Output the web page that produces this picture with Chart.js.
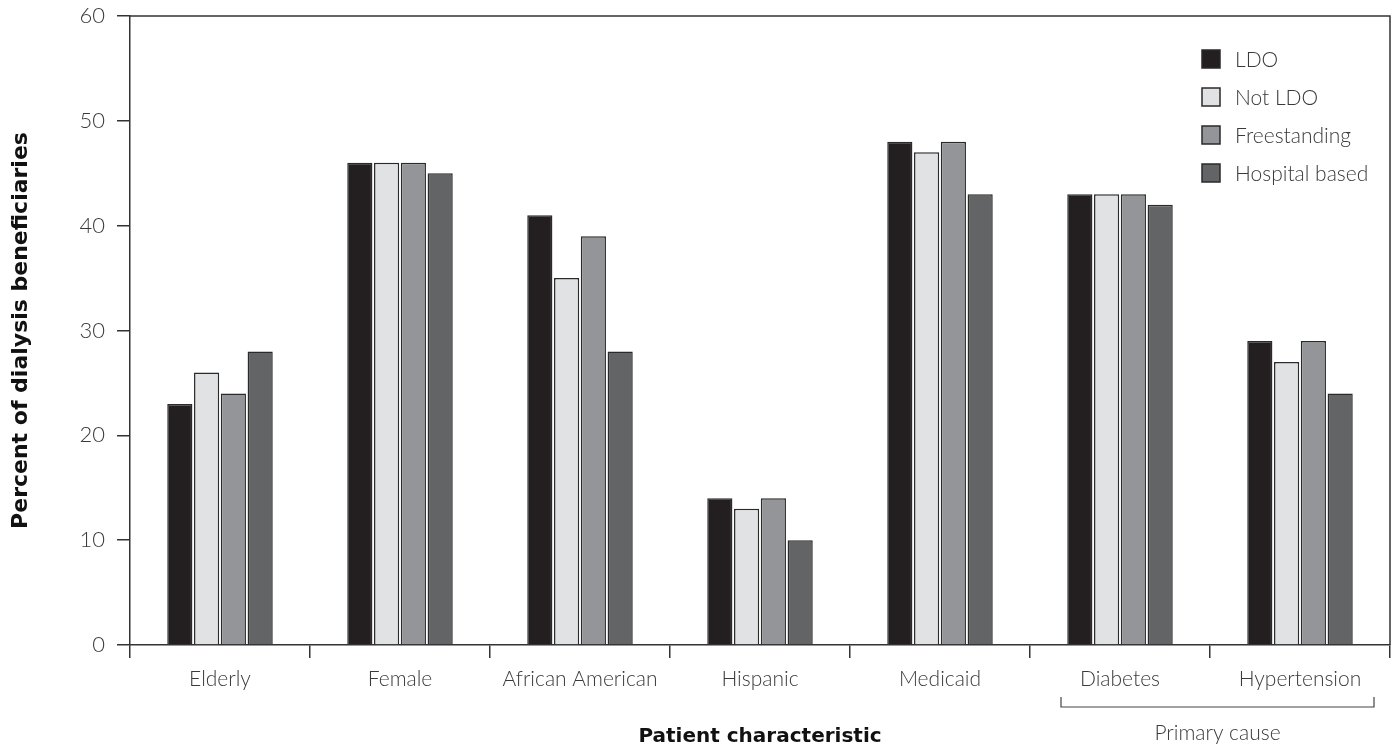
<!DOCTYPE html>
<html>
<head>
<meta charset="utf-8">
<script src="https://cdn.jsdelivr.net/npm/chart.js@4.4.1/dist/chart.umd.min.js"></script>
<style>
  html, body { margin: 0; padding: 0; background: #fff; }
  #wrap { width: 1400px; height: 755px; }
</style>
</head>
<body>
<div id="wrap"><canvas id="grafico"></canvas></div>
<script>
// datos
const categories = ['Elderly', 'Female', 'African American', 'Hispanic', 'Medicaid', 'Diabetes', 'Hypertension'];
const ldo = [23, 46, 41, 14, 48, 43, 29];
const notLdo = [26, 46, 35, 13, 47, 43, 27];
const freestanding = [24, 46, 39, 14, 48, 43, 29];
const hospitalBased = [28, 45, 28, 10, 43, 42, 24];
const seriesNames = ['LDO', 'Not LDO', 'Freestanding', 'Hospital based'];
const yMin = 0;
const yMax = 60;
const yStep = 10;
const groupLabel = 'Primary cause';
const groupFirst = 'Diabetes';
const groupLast = 'Hypertension';

const colors = ['#231f20', '#e1e2e4', '#939598', '#636466'];
const edge = '#2a2a2a';
const lightFont = { family: 'Lato', weight: '300', size: 21 };

//marco superior y derecho + leyenda + corchete
const extras = {
    id: 'extras',
    afterDraw(chart) {
        const ctx = chart.ctx;
        const a = chart.chartArea;
        ctx.save();
        ctx.strokeStyle = '#333';
        ctx.lineWidth = 1.5;
        ctx.beginPath();
        ctx.moveTo(a.left, a.top);
        ctx.lineTo(a.right, a.top);
        ctx.lineTo(a.right, a.bottom);
        ctx.stroke();

        //leyenda
        ctx.font = '300 21px Lato';
        ctx.textBaseline = 'middle';
        ctx.textAlign = 'left';
        chart.data.datasets.forEach((ds, i) => {
            const y = 59 + i * 38;
            ctx.fillStyle = ds.backgroundColor;
            ctx.fillRect(1202, y - 9, 18, 18);
            ctx.strokeStyle = edge;
            ctx.lineWidth = 1.5;
            ctx.strokeRect(1202, y - 9, 18, 18);
            ctx.fillStyle = '#3a3a3a';
            ctx.fillText(ds.label, 1235, y + 1);
        });

        //corchete "Primary cause"
        const x = chart.scales.x;
        const x1 = x.getPixelForValue(categories.indexOf(groupFirst)) - 59;
        const x2 = x.getPixelForValue(categories.indexOf(groupLast)) + 74;
        ctx.strokeStyle = '#444';
        ctx.lineWidth = 1.2;
        ctx.beginPath();
        ctx.moveTo(x1, 697);
        ctx.lineTo(x1, 707);
        ctx.lineTo(x2, 707);
        ctx.lineTo(x2, 697);
        ctx.stroke();
        ctx.fillStyle = '#3a3a3a';
        ctx.textAlign = 'center';
        ctx.fillText(groupLabel, (x1 + x2) / 2, 733);
        ctx.restore();
    }
};

const values = [ldo, notLdo, freestanding, hospitalBased];

const ctx = document.getElementById('grafico').getContext('2d');
new Chart(ctx, {
    type: 'bar',
    data: {
        labels: categories,
        datasets: values.map((v, i) => ({
            label: seriesNames[i],
            data: v,
            backgroundColor: colors[i],
            borderColor: edge,
            borderWidth: 1.5,
            categoryPercentage: 0.595,
            barPercentage: 0.94
        }))
    },
    options: {
        responsive: true,
        maintainAspectRatio: false,
        animation: false,
        layout: { padding: { top: 16, right: 10, left: 0, bottom: 0 } },
        plugins: {
            legend: { display: false },
            tooltip: { enabled: false }
        },
        scales: {
            x: {
                afterFit: s => { s.height = 110; },
                grid: {
                    drawOnChartArea: false,
                    drawTicks: true,
                    tickLength: 13,
                    color: '#333',
                    lineWidth: 1.5
                },
                border: { color: '#333', width: 1.5 },
                ticks: { color: '#3a3a3a', font: lightFont, padding: 9, maxRotation: 0 },
                title: {
                    display: true,
                    text: 'Patient characteristic',
                    color: '#111',
                    font: { family: 'DejaVu Sans', weight: 'bold', size: 20 },
                    padding: { top: 0, bottom: 6 }
                }
            },
            y: {
                min: yMin,
                max: yMax,
                afterFit: s => { s.width = 130; s.paddingTop = 0; s.paddingBottom = 0; },
                grid: {
                    drawOnChartArea: false,
                    drawTicks: true,
                    tickLength: 13,
                    color: '#333',
                    lineWidth: 1.5
                },
                border: { color: '#333', width: 1.5 },
                ticks: { stepSize: yStep, color: '#3a3a3a', font: { family: 'Lato', weight: '300', size: 22 }, padding: 12 },
                title: {
                    display: true,
                    text: 'Percent of dialysis beneficiaries',
                    color: '#111',
                    font: { family: 'DejaVu Sans', weight: 'bold', size: 22 },
                    padding: { top: 8, bottom: 0 }
                }
            }
        }
    },
    plugins: [extras]
});
</script>
</body>
</html>
